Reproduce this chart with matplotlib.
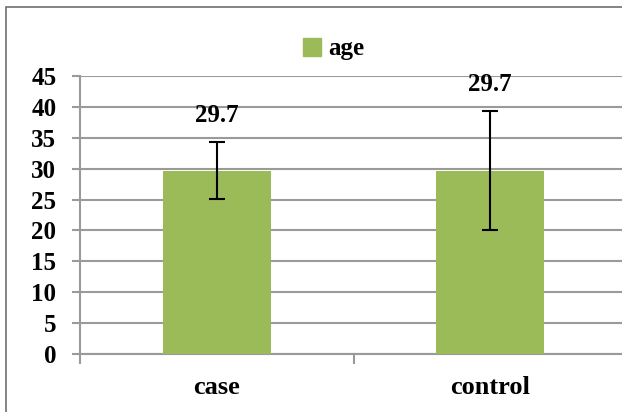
import matplotlib
matplotlib.use('Agg')
import matplotlib.pyplot as plt
from matplotlib.patches import Rectangle

# data
groups = ['case', 'control']
age_mean = [29.7, 29.7]
age_err = [4.6, 9.7]
bar_labels = ['29.7', '29.7']
y_ticks = [0, 5, 10, 15, 20, 25, 30, 35, 40, 45]

plt.rcParams['font.family'] = ['Liberation Serif', 'DejaVu Serif']
plt.rcParams['font.weight'] = 'bold'

W, H = 622, 412
fig = plt.figure(figsize=(W / 100, H / 100), dpi=100)
# axes run a little past the right edge, like the cropped original
ax = fig.add_axes([80 / W, (H - 354) / H, (627 - 80) / W, (354 - 76) / H])

green = '#9BBB59'
grid_c = '#9A9A9A'

x = list(range(len(groups)))
ax.bar(x, age_mean, width=0.395, color=green, zorder=3)
ax.errorbar(x, age_mean, yerr=age_err, fmt='none', ecolor='black',
            elinewidth=1.5, capsize=6, capthick=1.5, zorder=4)

for xi, m, e, lab in zip(x, age_mean, age_err, bar_labels):
    ax.annotate(lab, (xi, m + e), xytext=(0, 19), textcoords='offset points',
                ha='center', va='center', fontsize=18, fontweight='bold')

ax.set_xlim(-0.5, 1.5)
ax.set_ylim(0, 45)
ax.set_yticks(y_ticks)
ax.set_yticklabels([str(t) for t in y_ticks], fontsize=18, fontweight='bold')
ax.set_xticks([-0.5, 0.5, 1.5])
ax.set_xticklabels([])
ax.set_xticks(x, minor=True)
ax.set_xticklabels(groups, minor=True, fontsize=19, fontweight='bold')
ax.tick_params(axis='x', which='minor', length=0, pad=16)
ax.tick_params(axis='x', which='major', length=7, width=1.5, color=grid_c, direction='out')
ax.tick_params(axis='y', length=6, width=1.5, color=grid_c, direction='out', pad=11)

ax.grid(axis='y', color=grid_c, linewidth=1.5, zorder=0)
ax.set_axisbelow(True)
for s in ['top', 'right']:
    ax.spines[s].set_visible(False)
ax.spines['left'].set_color(grid_c)
ax.spines['left'].set_linewidth(1.5)
ax.spines['bottom'].set_color(grid_c)
ax.spines['bottom'].set_linewidth(1.5)

# legend at the top
leg = ax.legend([Rectangle((0, 0), 1, 1, color=green)], ['age'],
                loc='center', bbox_to_anchor=(334 / W, (H - 49) / H),
                bbox_transform=fig.transFigure, frameon=False,
                prop={'size': 18, 'weight': 'bold'},
                handlelength=0.7, handleheight=0.7, handletextpad=0.3)

# chart frame (cut at right and bottom in the source)
fig.add_artist(Rectangle((6 / W, -0.1), 1.2, (H - 7) / H + 0.1,
                         transform=fig.transFigure, fill=False,
                         edgecolor='#707070', linewidth=1.2))

fig.savefig('out.png', dpi=100)
